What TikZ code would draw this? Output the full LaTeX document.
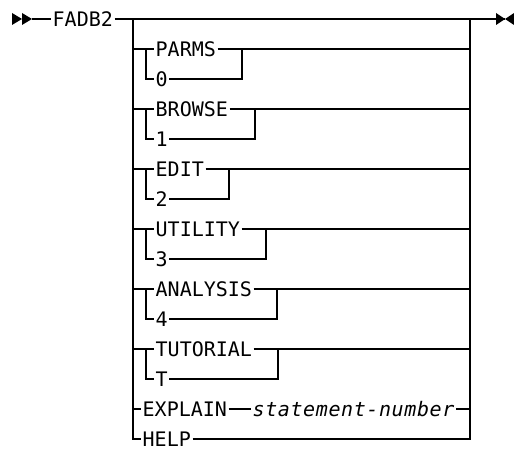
\documentclass[tikz,border=0pt]{standalone}
\usepackage{fontspec}
\newfontfamily\railfont{DejaVu Sans Mono}
\newfontfamily\railvarfont[LetterSpace=3]{DejaVu Sans Mono Oblique}

\begin{document}
\begin{tikzpicture}[x=1pt, y=-1pt]
        \tikzstyle{kw} = [anchor=west, inner xsep=1.5pt, inner ysep=0pt, text height=14.5pt, text depth=0pt, font=\railfont\fontsize{20}{24}\selectfont]
        \tikzstyle{var} = [kw, font=\railvarfont\fontsize{20}{24}\selectfont]
        \tikzstyle{line} = [draw, line width=2.2pt]

    \useasboundingbox (0,0) rectangle (514,449);

    % ends of the main line and the two verticals
    \coordinate (start) at (32,19);
    \coordinate (stop) at (505,19);
    \coordinate (top left) at (133,19);
    \coordinate (top right) at (470,19);
    \coordinate (bottom left) at (133,439);
    \coordinate (bottom right) at (470,439);
    \coordinate (bk) at (146,19);

    \fill (start) ++(-20,-6) -- ++(10,6) -- ++(-10,6) -- cycle;
    \fill (start) ++(-10,-6) -- ++(10,6) -- ++(-10,6) -- cycle;
    \fill (stop) -- ++(-9,-6) -- ++(0,12) -- cycle;
    \fill (stop) -- ++(9,-6) -- ++(0,12) -- cycle;

    \node [kw] (fadb) at (51,19) {FADB2};
    \path [line] (start) -- (fadb.west);
    \path [line] (fadb.east) -- (stop);

    \node [kw] (parms) at (154,49) {PARMS};
    \node [kw] (parms0) at (154,79) {0};
    \node [kw] (browse) at (154,109) {BROWSE};
    \node [kw] (browse1) at (154,139) {1};
    \node [kw] (edit) at (154,169) {EDIT};
    \node [kw] (edit2) at (154,199) {2};
    \node [kw] (utility) at (154,229) {UTILITY};
    \node [kw] (utility3) at (154,259) {3};
    \node [kw] (analysis) at (154,289) {ANALYSIS};
    \node [kw] (analysis4) at (154,319) {4};
    \node [kw] (tutorial) at (154,349) {TUTORIAL};
    \node [kw] (tutorialT) at (154,379) {T};
    \node [kw] (explain) at (141,409) {EXPLAIN};
    \node [var] (stmt) at (251,409) {statement-number};
    \node [kw] (help) at (141,439) {HELP};

    \coordinate (parms j) at (242,49);
    \coordinate (browse j) at (255,109);
    \coordinate (edit j) at (229,169);
    \coordinate (utility j) at (266,229);
    \coordinate (analysis j) at (277,289);
    \coordinate (tutorial j) at (278,349);

    \path [line] (top left) -- (bottom left) -- (help.west);
    \path [line] (help.east) -- (bottom right) -- (top right);

    \path [line] (parms.west -| top left) -- (parms.west);
    \path [line] (parms.east) -- (parms.east -| top right);
    \path [line] (parms.west -| bk) |- (parms0.west);
    \path [line] (parms0.east) -| (parms j);

    \path [line] (browse.west -| top left) -- (browse.west);
    \path [line] (browse.east) -- (browse.east -| top right);
    \path [line] (browse.west -| bk) |- (browse1.west);
    \path [line] (browse1.east) -| (browse j);

    \path [line] (edit.west -| top left) -- (edit.west);
    \path [line] (edit.east) -- (edit.east -| top right);
    \path [line] (edit.west -| bk) |- (edit2.west);
    \path [line] (edit2.east) -| (edit j);

    \path [line] (utility.west -| top left) -- (utility.west);
    \path [line] (utility.east) -- (utility.east -| top right);
    \path [line] (utility.west -| bk) |- (utility3.west);
    \path [line] (utility3.east) -| (utility j);

    \path [line] (analysis.west -| top left) -- (analysis.west);
    \path [line] (analysis.east) -- (analysis.east -| top right);
    \path [line] (analysis.west -| bk) |- (analysis4.west);
    \path [line] (analysis4.east) -| (analysis j);

    \path [line] (tutorial.west -| top left) -- (tutorial.west);
    \path [line] (tutorial.east) -- (tutorial.east -| top right);
    \path [line] (tutorial.west -| bk) |- (tutorialT.west);
    \path [line] (tutorialT.east) -| (tutorial j);

    \path [line] (explain.west -| top left) -- (explain.west);
    \path [line] (explain.east) -- (stmt.west);
    \path [line] (stmt.east) -- (stmt.east -| top right);
    \end{tikzpicture}
\end{document}
